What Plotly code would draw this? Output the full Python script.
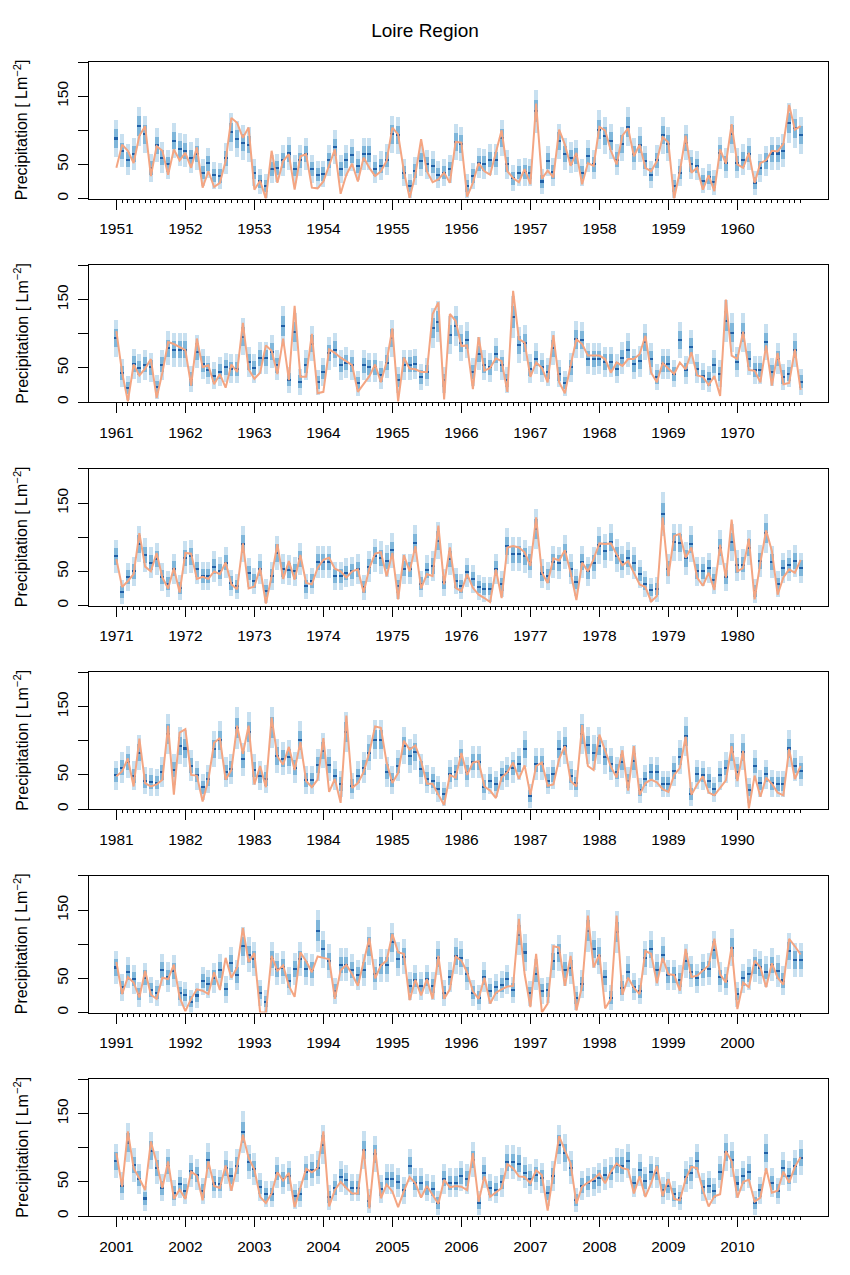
import numpy as np
import plotly.graph_objects as go

# observed monthly precipitation (orange line) and predictive medians, one list per decade
obs_1951 = [45, 79, 70, 52, 92, 106, 33, 77, 70, 35, 72, 56,
            67, 45, 75, 16, 40, 17, 23, 55, 118, 111, 89, 104,
            13, 26, 0, 70, 23, 55, 65, 13, 62, 65, 16, 15,
            25, 50, 72, 7, 35, 51, 25, 60, 45, 33, 40, 55,
            104, 94, 40, 1, 35, 87, 40, 24, 28, 38, 23, 83,
            82, 3, 23, 52, 40, 35, 67, 100, 40, 30, 24, 43,
            21, 139, 29, 41, 31, 101, 79, 48, 67, 21, 52, 48,
            105, 100, 70, 50, 92, 103, 62, 79, 45, 40, 55, 90,
            82, 0, 40, 92, 38, 45, 13, 34, 11, 72, 51, 109,
            50, 45, 67, 23, 52, 56, 70, 69, 80, 137, 101, 106]
med_1951 = [88, 70, 57, 65, 106, 94, 45, 78, 60, 50, 85, 72,
            70, 60, 65, 38, 52, 34, 33, 59, 97, 87, 82, 79,
            38, 25, 18, 43, 45, 56, 66, 43, 56, 65, 43, 35,
            36, 56, 75, 43, 56, 64, 48, 65, 65, 43, 48, 57,
            94, 93, 38, 19, 40, 55, 50, 48, 35, 38, 43, 83,
            80, 18, 33, 52, 51, 57, 57, 89, 50, 30, 38, 39,
            38, 128, 25, 55, 39, 84, 65, 60, 62, 38, 62, 50,
            101, 92, 84, 57, 80, 105, 65, 79, 55, 35, 56, 93,
            80, 18, 38, 82, 50, 48, 26, 31, 24, 67, 52, 94,
            52, 57, 65, 23, 45, 55, 66, 66, 70, 111, 103, 93]

obs_1961 = [104, 43, 1, 55, 39, 49, 63, 6, 43, 88, 85, 81,
            76, 24, 93, 51, 54, 26, 41, 21, 55, 44, 116, 48,
            34, 43, 83, 75, 41, 93, 32, 141, 37, 37, 100, 13,
            15, 77, 72, 65, 60, 54, 15, 26, 38, 55, 29, 59,
            108, 1, 65, 49, 48, 44, 44, 129, 146, 4, 129, 119,
            82, 83, 19, 95, 46, 50, 64, 60, 15, 163, 92, 87,
            37, 58, 50, 29, 98, 29, 13, 54, 92, 85, 68, 68,
            68, 63, 43, 58, 53, 63, 63, 70, 97, 43, 29, 57,
            49, 41, 58, 48, 73, 39, 37, 25, 38, 9, 150, 68,
            63, 103, 47, 46, 29, 83, 24, 72, 26, 28, 77, 18]
med_1961 = [93, 42, 20, 55, 49, 54, 50, 21, 54, 78, 76, 76,
            76, 33, 73, 55, 46, 38, 44, 50, 48, 48, 95, 58,
            49, 64, 64, 73, 53, 111, 32, 102, 29, 53, 85, 28,
            43, 71, 76, 54, 57, 54, 27, 53, 50, 50, 39, 57,
            93, 31, 54, 54, 55, 36, 43, 108, 117, 31, 98, 111,
            86, 90, 43, 70, 53, 50, 69, 54, 31, 124, 83, 86,
            48, 63, 50, 43, 78, 41, 27, 50, 91, 90, 63, 62,
            63, 58, 58, 48, 64, 76, 55, 59, 87, 62, 36, 55,
            55, 41, 90, 46, 80, 48, 37, 33, 53, 41, 118, 101,
            58, 101, 62, 46, 46, 87, 43, 63, 36, 41, 76, 29]

obs_1971 = [68, 27, 36, 46, 106, 57, 50, 77, 41, 25, 55, 19,
            77, 76, 39, 42, 39, 50, 46, 63, 31, 24, 91, 25,
            28, 55, 3, 43, 90, 39, 65, 38, 74, 33, 31, 55,
            67, 70, 54, 50, 41, 50, 53, 19, 55, 76, 78, 43,
            77, 9, 74, 50, 87, 25, 46, 43, 117, 31, 85, 26,
            21, 46, 26, 16, 11, 5, 53, 11, 85, 87, 85, 78,
            58, 129, 48, 33, 69, 66, 81, 48, 8, 63, 50, 68,
            91, 90, 91, 75, 59, 65, 48, 31, 27, 6, 14, 129,
            43, 102, 105, 70, 85, 41, 29, 48, 23, 89, 41, 126,
            50, 55, 98, 9, 63, 110, 80, 16, 41, 53, 48, 67]
med_1971 = [72, 20, 42, 50, 90, 74, 63, 68, 42, 32, 54, 26,
            70, 72, 53, 43, 43, 57, 50, 63, 33, 28, 90, 48,
            36, 54, 21, 43, 77, 53, 52, 50, 68, 28, 36, 64,
            64, 64, 43, 43, 48, 50, 53, 27, 57, 73, 70, 65,
            81, 28, 54, 53, 91, 32, 52, 58, 95, 34, 68, 36,
            28, 49, 39, 27, 24, 24, 54, 31, 87, 75, 75, 72,
            64, 112, 47, 43, 64, 62, 78, 53, 34, 64, 50, 62,
            88, 80, 93, 73, 64, 69, 62, 46, 32, 23, 24, 134,
            54, 93, 92, 69, 90, 50, 50, 55, 37, 85, 42, 93,
            59, 60, 85, 21, 65, 106, 64, 31, 55, 59, 65, 55]

obs_1981 = [48, 55, 74, 33, 103, 38, 33, 36, 43, 122, 21, 112,
            117, 50, 49, 11, 43, 97, 104, 43, 57, 122, 81, 122,
            36, 63, 32, 134, 77, 65, 91, 57, 98, 41, 32, 43,
            104, 25, 44, 9, 137, 31, 38, 54, 83, 121, 119, 68,
            38, 53, 100, 87, 93, 70, 37, 37, 21, 6, 50, 46,
            82, 50, 68, 70, 33, 27, 16, 46, 54, 68, 44, 64,
            21, 63, 68, 34, 36, 73, 92, 41, 33, 123, 63, 57,
            109, 87, 62, 46, 86, 27, 92, 21, 38, 43, 39, 29,
            25, 50, 60, 106, 21, 36, 48, 24, 20, 31, 42, 92,
            41, 85, 1, 49, 18, 46, 37, 24, 20, 88, 44, 63]
med_1981 = [49, 60, 68, 48, 82, 41, 39, 38, 53, 109, 57, 92,
            88, 63, 49, 31, 43, 87, 100, 53, 58, 118, 72, 112,
            57, 48, 43, 119, 77, 73, 75, 60, 100, 42, 42, 64,
            85, 64, 48, 36, 112, 33, 48, 60, 82, 101, 101, 54,
            42, 63, 92, 77, 83, 58, 43, 41, 29, 21, 50, 53,
            75, 53, 68, 68, 32, 41, 36, 49, 53, 60, 65, 87,
            19, 65, 65, 41, 50, 87, 92, 48, 37, 109, 93, 82,
            92, 76, 65, 54, 68, 41, 69, 27, 43, 54, 53, 36,
            36, 55, 76, 106, 21, 50, 49, 41, 28, 49, 60, 83,
            54, 83, 27, 63, 37, 50, 37, 36, 36, 88, 63, 55]

obs_1991 = [74, 27, 52, 44, 22, 61, 26, 20, 51, 49, 70, 22,
            2, 20, 34, 32, 27, 59, 33, 80, 51, 66, 124, 74,
            87, 0, 0, 83, 61, 69, 39, 23, 88, 75, 59, 82,
            80, 78, 20, 62, 70, 56, 39, 72, 109, 50, 69, 76,
            115, 88, 86, 18, 48, 25, 49, 20, 83, 20, 34, 82,
            76, 59, 31, 20, 51, 13, 29, 34, 38, 39, 137, 56,
            8, 86, 0, 13, 97, 95, 39, 83, 3, 39, 142, 66,
            85, 6, 20, 142, 26, 51, 36, 27, 90, 86, 43, 80,
            56, 55, 32, 93, 52, 54, 61, 69, 108, 56, 44, 96,
            5, 44, 37, 76, 66, 37, 72, 51, 41, 108, 97, 85]
med_1991 = [66, 37, 59, 49, 27, 51, 33, 29, 62, 52, 61, 28,
            26, 16, 25, 46, 42, 51, 62, 34, 72, 55, 97, 85,
            78, 29, 16, 78, 64, 66, 46, 64, 78, 64, 62, 120,
            93, 75, 32, 70, 70, 62, 55, 62, 97, 56, 69, 69,
            103, 78, 82, 39, 48, 39, 49, 39, 80, 29, 52, 83,
            80, 56, 29, 22, 52, 32, 37, 41, 49, 33, 114, 88,
            28, 56, 32, 33, 75, 87, 62, 65, 21, 42, 120, 93,
            83, 52, 22, 118, 36, 60, 38, 31, 80, 93, 62, 85,
            55, 55, 48, 75, 60, 50, 62, 64, 92, 52, 46, 95,
            27, 50, 56, 69, 66, 60, 70, 61, 47, 90, 77, 77]

obs_2001 = [92, 43, 124, 70, 55, 38, 109, 78, 41, 80, 25, 39,
            25, 65, 59, 23, 80, 44, 41, 74, 37, 73, 119, 85,
            68, 28, 19, 33, 64, 52, 63, 13, 41, 69, 64, 70,
            124, 14, 38, 50, 41, 33, 33, 98, 11, 98, 26, 46,
            36, 13, 36, 57, 48, 27, 44, 31, 18, 53, 42, 44,
            43, 38, 92, 21, 58, 28, 34, 41, 76, 70, 58, 57,
            48, 67, 60, 8, 63, 117, 96, 77, 18, 43, 49, 54,
            62, 48, 65, 77, 70, 68, 33, 58, 28, 48, 73, 29,
            54, 25, 23, 54, 72, 70, 38, 14, 29, 32, 95, 80,
            27, 50, 53, 21, 27, 70, 34, 37, 65, 49, 72, 86]
med_2001 = [80, 43, 107, 74, 54, 25, 95, 70, 41, 73, 33, 46,
            36, 65, 60, 36, 81, 47, 46, 70, 58, 73, 122, 78,
            68, 42, 31, 31, 63, 53, 58, 28, 31, 64, 67, 70,
            104, 27, 41, 57, 52, 41, 41, 96, 21, 90, 39, 53,
            53, 49, 37, 73, 48, 48, 41, 39, 19, 54, 48, 48,
            58, 54, 82, 19, 63, 41, 38, 49, 78, 78, 76, 63,
            54, 60, 55, 33, 58, 104, 92, 70, 23, 44, 48, 50,
            55, 60, 63, 74, 73, 80, 48, 67, 50, 64, 63, 37,
            43, 31, 26, 57, 62, 80, 42, 44, 36, 64, 93, 82,
            47, 58, 64, 19, 37, 92, 48, 36, 69, 58, 72, 85]

decades = [(1951, obs_1951, med_1951), (1961, obs_1961, med_1961),
           (1971, obs_1971, med_1971), (1981, obs_1981, med_1981),
           (1991, obs_1991, med_1991), (2001, obs_2001, med_2001)]

LIGHT = '#c8e0f0'
MID = '#7fb6da'
DARK = '#1f5fa6'
ORANGE = '#f4a582'
FONT = 'Liberation Sans, Arial, sans-serif'

# the page body adds an 8px margin, so the figure is drawn 16px smaller
W, H = 834, 1259
L, R, T, B = 81, 14, 54, 39
plot_w = W - L - R
plot_h = H - T - B
panel_step = 205.6
panel_h = 138

fig = go.Figure()
layout = {}
annotations = []

for i, (start, obs, med) in enumerate(decades):
    n = i + 1
    xa = 'x' if n == 1 else f'x{n}'
    ya = 'y' if n == 1 else f'y{n}'
    x = start + np.arange(len(obs)) / 12.0
    m = np.array(med, dtype=float)
    # spread of the predictive bands grows a little with the median
    outer = 15 + 0.13 * m
    inner = 0.5 * outer
    w = 0.7 / 12

    fig.add_trace(go.Bar(x=x, y=2 * outer, base=m - outer, width=w,
                         marker=dict(color=LIGHT, line=dict(width=0)),
                         xaxis=xa, yaxis=ya, showlegend=False, hoverinfo='skip'))
    fig.add_trace(go.Bar(x=x, y=2 * inner, base=m - inner, width=w,
                         marker=dict(color=MID, line=dict(width=0)),
                         xaxis=xa, yaxis=ya, showlegend=False, hoverinfo='skip'))
    fig.add_trace(go.Bar(x=x, y=np.full(len(m), 3.0), base=m - 1.5, width=w,
                         marker=dict(color=DARK, line=dict(width=0)),
                         xaxis=xa, yaxis=ya, showlegend=False, hoverinfo='skip'))
    fig.add_trace(go.Scatter(x=x, y=obs, mode='lines',
                             line=dict(color=ORANGE, width=2),
                             xaxis=xa, yaxis=ya, showlegend=False))

    top_px = T + i * panel_step
    bot_px = min(top_px + panel_h, H - B)
    d0 = max(0.0, (H - B - bot_px) / plot_h)
    d1 = min(1.0, (H - B - top_px) / plot_h)
    pad = 4.76 / 12
    years = list(range(start, start + 10))

    layout['xaxis' if n == 1 else f'xaxis{n}'] = dict(
        domain=[0, 1], anchor=ya, range=[start - pad, start + 119 / 12 + pad],
        tickmode='array', tickvals=years, ticktext=[str(v) for v in years],
        ticks='outside', ticklen=10, tickwidth=1, tickcolor='black',
        ticklabelstandoff=6,
        minor=dict(tickmode='array', tickvals=list(x), ticks='outside',
                   ticklen=3, tickwidth=1, tickcolor='black'),
        showline=True, linecolor='black', linewidth=1, mirror=True,
        showgrid=False, zeroline=False,
        tickfont=dict(family=FONT, size=15.5, color='black'))
    # 100 and 200 get a tick but no label, as in the original
    layout['yaxis' if n == 1 else f'yaxis{n}'] = dict(
        domain=[d0, d1], anchor=xa, range=[0, 200],
        tickmode='array', tickvals=[0, 50, 150], ticktext=['0', '50', '150'],
        tickangle=-90, ticks='outside', ticklen=10, tickwidth=1, tickcolor='black',
        ticklabelstandoff=4,
        minor=dict(tickmode='array', tickvals=[100, 200], ticks='outside',
                   ticklen=10, tickwidth=1, tickcolor='black'),
        showline=True, linecolor='black', linewidth=1, mirror=True,
        showgrid=False, zeroline=False,
        tickfont=dict(family=FONT, size=15.5, color='black'))

    annotations.append(dict(
        text='Precipitation [ Lm<sup>\u22122</sup>]', textangle=-90,
        xref='paper', yref='paper', x=(1 - L) / plot_w, y=(d0 + d1) / 2,
        xanchor='left', yanchor='middle', showarrow=False,
        font=dict(family=FONT, size=16, color='black')))

fig.update_layout(
    width=W, height=H,
    margin=dict(l=L, r=R, t=T, b=B),
    paper_bgcolor='white', plot_bgcolor='white',
    barmode='overlay', bargap=0,
    title=dict(text='Loire Region', x=0.5, xref='container', xanchor='center',
               y=1 - 22 / H, yref='container', yanchor='middle',
               font=dict(family=FONT, size=19, color='black')),
    annotations=annotations,
    **layout)

fig.write_html("out.html")
